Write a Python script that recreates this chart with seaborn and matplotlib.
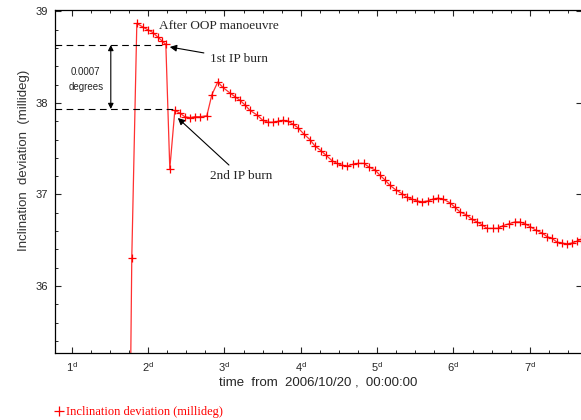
#Import Libraries
import numpy as np
import pandas as pd
import seaborn as sb
import matplotlib
matplotlib.use("Agg")
import matplotlib.pyplot as plt
from matplotlib.ticker import MultipleLocator
from matplotlib.lines import Line2D

#Data (time in days from 2006/10/20, inclination deviation in millideg)
days = [1.765, 1.786, 1.852, 1.931, 1.996, 2.062, 2.127, 2.180, 2.232, 2.284, 2.350,
        2.415, 2.481, 2.547, 2.612, 2.678, 2.769, 2.835, 2.913, 2.979, 3.071,
        3.136, 3.202, 3.267, 3.333, 3.425, 3.503, 3.569, 3.634, 3.700, 3.765,
        3.831, 3.896, 3.962, 4.041, 4.119, 4.185, 4.263, 4.329, 4.408, 4.473,
        4.539, 4.604, 4.683, 4.748, 4.827, 4.893, 4.971, 5.037, 5.102, 5.168,
        5.246, 5.325, 5.391, 5.456, 5.522, 5.587, 5.666, 5.731, 5.797, 5.862,
        5.954, 6.020, 6.085, 6.164, 6.242, 6.308, 6.374, 6.439, 6.518, 6.583,
        6.649, 6.727, 6.806, 6.872, 6.937, 7.003, 7.081, 7.160, 7.225, 7.291,
        7.356, 7.422, 7.487, 7.553, 7.619, 7.671]
incl = [34.60, 36.31, 38.87, 38.83, 38.80, 38.77, 38.72, 38.68, 38.64, 37.28, 37.92,
        37.89, 37.85, 37.84, 37.85, 37.85, 37.86, 38.09, 38.23, 38.17, 38.11,
        38.07, 38.03, 37.98, 37.92, 37.87, 37.81, 37.79, 37.79, 37.80, 37.81,
        37.80, 37.77, 37.73, 37.66, 37.60, 37.53, 37.48, 37.43, 37.37, 37.34,
        37.32, 37.31, 37.33, 37.34, 37.34, 37.30, 37.27, 37.21, 37.16, 37.10,
        37.05, 37.01, 36.97, 36.95, 36.93, 36.92, 36.93, 36.95, 36.96, 36.95,
        36.91, 36.86, 36.81, 36.78, 36.73, 36.70, 36.67, 36.63, 36.63, 36.63,
        36.66, 36.68, 36.70, 36.70, 36.68, 36.65, 36.61, 36.58, 36.54, 36.52,
        36.48, 36.47, 36.46, 36.47, 36.49, 36.51]
dataset = pd.DataFrame({"days": days, "incl": incl})

#Burn levels and tick labels
burn1 = (2.232, 38.634)
burn2 = (2.350, 37.934)
xTicks = [1, 2, 3, 4, 5, 6, 7]
xTickLabels = [r"$\mathregular{" + str(d) + "^d}$" for d in xTicks]
yTicks = [36, 37, 38, 39]

sb.set_style("ticks")
plt.rcParams["font.family"] = ["Liberation Sans", "DejaVu Sans"]

#Graph
fig = plt.figure(figsize=(5.81, 4.20), dpi=100)
ax = fig.add_axes([55 / 581, 1 - 353 / 420, 527 / 581, 343 / 420])
sb.lineplot(data=dataset, x="days", y="incl", ax=ax, color="#ff3030", lw=0.9,
            marker="+", markersize=5.5, markeredgewidth=0.9, markeredgecolor="#ff0000",
            sort=False, estimator=None)

ax.set_xlim(0.78, 7.684)
ax.set_ylim(35.268, 39.016)

#Axis styling
for s in ax.spines.values():
    s.set_linewidth(0.9)
    s.set_color("black")
ax.set_xticks(xTicks)
ax.set_xticklabels(xTickLabels)
ax.set_yticks(yTicks)
ax.xaxis.set_minor_locator(MultipleLocator(0.25))
ax.yaxis.set_minor_locator(MultipleLocator(0.2))
ax.tick_params(which="major", direction="in", length=4, width=0.8, labelsize=8,
               top=True, right=True, pad=5)
ax.tick_params(which="minor", direction="in", length=2.3, width=0.7, top=True, right=False)

ax.set_xlabel("time  from  2006/10/20 ,  00:00:00", fontsize=9.5, labelpad=2)
ax.set_ylabel("Inclination  deviation  (millideg)", fontsize=9.5, color="#333333")
ax.yaxis.set_label_coords(-0.047, 0.563)

#Dashed burn levels
ax.plot([0.78, burn1[0]], [burn1[1], burn1[1]], color="black", lw=0.8, ls=(0, (6, 4)))
ax.plot([0.78, burn2[0]], [burn2[1], burn2[1]], color="black", lw=0.8, ls=(0, (6, 4)))

#Annotations
serif = ["Liberation Serif", "DejaVu Serif"]
ax.text(2.14, 38.84, "After OOP manoeuvre", family=serif, fontsize=9.5, va="center")
ax.annotate("1st IP burn", xy=(2.284, 38.612), xytext=(2.809, 38.48), family=serif,
            fontsize=9.5, va="center",
            arrowprops=dict(arrowstyle="-|>", color="black", lw=0.8, mutation_scale=10,
                            shrinkA=2, shrinkB=0))
ax.annotate("2nd IP burn", xy=(2.389, 37.836), xytext=(2.809, 37.20), family=serif,
            fontsize=9.5, va="center",
            arrowprops=dict(arrowstyle="-|>", color="black", lw=0.8, mutation_scale=10,
                            shrinkA=2, shrinkB=0))
ax.annotate("", xy=(1.511, burn1[1]), xytext=(1.511, burn2[1]),
            arrowprops=dict(arrowstyle="<|-|>", color="black", lw=0.8, mutation_scale=8,
                            shrinkA=0, shrinkB=0))
ax.text(1.183, 38.26, "0.0007\ndegrees", fontsize=7, ha="center", va="center",
        linespacing=1.6)

#Legend
handle = Line2D([], [], color="#ff0000", marker="+", ls="none", markersize=7, markeredgewidth=0.9)
fig.legend([handle], ["Inclination deviation (millideg)"], loc="lower left",
           bbox_to_anchor=(0.075, -0.022), frameon=False, handlelength=0.6, handletextpad=0.3,
           prop={"family": "Liberation Serif", "size": 9}, labelcolor="#ff0000")

plt.savefig("out.png", dpi=100)
